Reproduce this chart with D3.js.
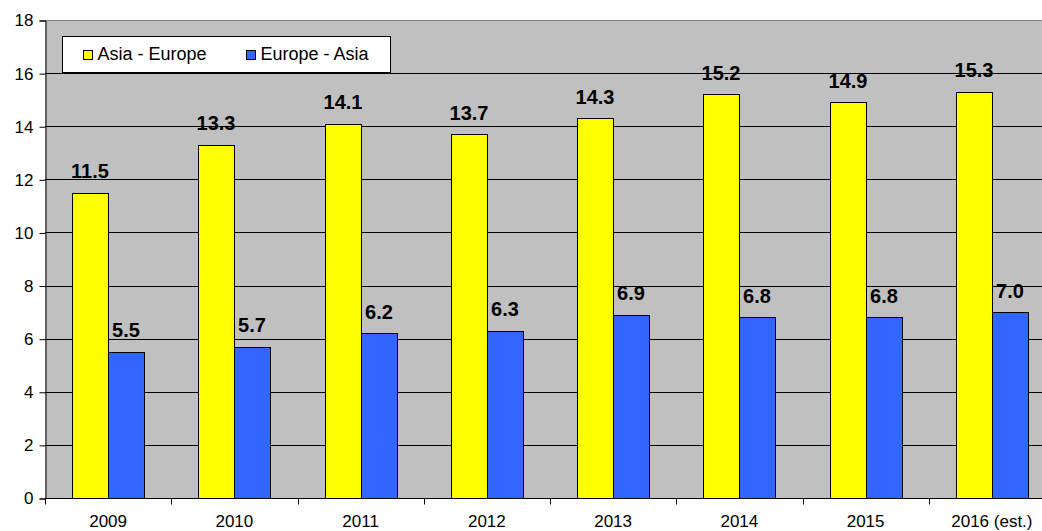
<!DOCTYPE html>
<html><head><meta charset="utf-8">
<script src="https://cdn.jsdelivr.net/npm/d3@7"></script>
<style>
body{margin:0;background:#fff;}
text{font-family:"Liberation Sans",Arial,sans-serif;}
</style></head>
<body>
<svg id="chart" width="1042" height="531"></svg>
<script>
const categories = ["2009","2010","2011","2012","2013","2014","2015","2016 (est.)"];
const seriesNames = ["Asia - Europe","Europe - Asia"];
const asiaEurope = [11.5,13.3,14.1,13.7,14.3,15.2,14.9,15.3];
const europeAsia = [5.5,5.7,6.2,6.3,6.9,6.8,6.8,7.0];
const yTicks = [0,2,4,6,8,10,12,14,16,18];
const colors = ["#FFFF00","#3366FF"];

const svg = d3.select("#chart");
const plotL = 45, plotR = 1055, plotT = 20, plotB = 498;

const x = d3.scaleBand().domain(categories).range([plotL,plotR]).paddingInner(0.43).paddingOuter(0.215);
const xs = d3.scaleBand().domain(seriesNames).range([0,x.bandwidth()]).padding(0);
const y = d3.scaleLinear().domain([0,18]).range([plotB,plotT]);

// plot background
svg.append("rect").attr("x",plotL).attr("y",plotT).attr("width",plotR-plotL).attr("height",plotB-plotT)
  .attr("fill","#C0C0C0");

// gridlines
svg.append("g").selectAll("line").data(yTicks.filter(d=>d>0 && d<18)).join("line")
  .attr("x1",plotL).attr("x2",plotR).attr("y1",d=>Math.round(y(d))+0.5).attr("y2",d=>Math.round(y(d))+0.5)
  .attr("stroke","#000").attr("stroke-width",1);
svg.append("line").attr("x1",plotL).attr("x2",plotR).attr("y1",plotT+0.5).attr("y2",plotT+0.5)
  .attr("stroke","#808080").attr("stroke-width",1);

// bars
const data = categories.map((c,i)=>({cat:c, vals:[
  {s:seriesNames[0], v:asiaEurope[i], c:colors[0]},
  {s:seriesNames[1], v:europeAsia[i], c:colors[1]}]}));
const groups = svg.append("g").selectAll("g").data(data).join("g")
  .attr("transform",d=>`translate(${Math.round(x(d.cat))},0)`);
groups.selectAll("rect").data(d=>d.vals).join("rect")
  .attr("x",d=>Math.round(xs(d.s))+0.5).attr("y",d=>Math.round(y(d.v))+0.5)
  .attr("width",Math.round(xs.bandwidth())).attr("height",d=>Math.round(y(0))-Math.round(y(d.v)))
  .attr("fill",d=>d.c).attr("stroke","#000").attr("stroke-width",1);
groups.selectAll("text").data(d=>d.vals).join("text")
  .attr("x",d=>xs(d.s)+xs.bandwidth()/2).attr("y",d=>y(d.v)-14.5)
  .attr("text-anchor","middle").attr("font-size",20).attr("font-weight","bold").attr("fill","#000")
  .text(d=>d.v.toFixed(1));

// y axis
const yAxis = d3.axisLeft(y).tickValues(yTicks).tickSize(6).tickPadding(6).tickFormat(d3.format("d"));
const gy = svg.append("g").attr("transform",`translate(${plotL+0.5},0.5)`).call(yAxis);
gy.select(".domain").attr("stroke","#000");
gy.selectAll(".tick line").attr("stroke","#000");
gy.selectAll(".tick text").attr("font-size",17).attr("fill","#000")
  .style("font-family",'"Liberation Sans",Arial,sans-serif');

// x axis
const gx = svg.append("g").attr("transform",`translate(0.5,${plotB+0.5})`);
gx.append("line").attr("x1",plotL).attr("x2",plotR).attr("stroke","#000");
const step = x.step();
const bounds = d3.range(categories.length+1).map(i=>Math.round(plotL + i*step));
gx.selectAll("line.t").data(bounds).join("line").attr("class","t")
  .attr("x1",d=>d).attr("x2",d=>d).attr("y1",0).attr("y2",6).attr("stroke","#000");
svg.append("g").selectAll("text").data(categories).join("text")
  .attr("x",d=>x(d)+x.bandwidth()/2).attr("y",527)
  .attr("text-anchor","middle").attr("font-size",17).attr("fill","#000").text(d=>d);

// legend
const lg = svg.append("g");
lg.append("rect").attr("x",62.5).attr("y",36.5).attr("width",328).attr("height",36)
  .attr("fill","#fff").attr("stroke","#000");
const legX = [83, 246];
seriesNames.forEach((s,i)=>{
  lg.append("rect").attr("x",legX[i]+0.5).attr("y",50.5).attr("width",9).attr("height",9)
    .attr("fill",colors[i]).attr("stroke","#000");
  lg.append("text").attr("x",legX[i]+14.5).attr("y",59.5).attr("font-size",18).attr("fill","#000").text(s);
});
</script>
</body></html>
